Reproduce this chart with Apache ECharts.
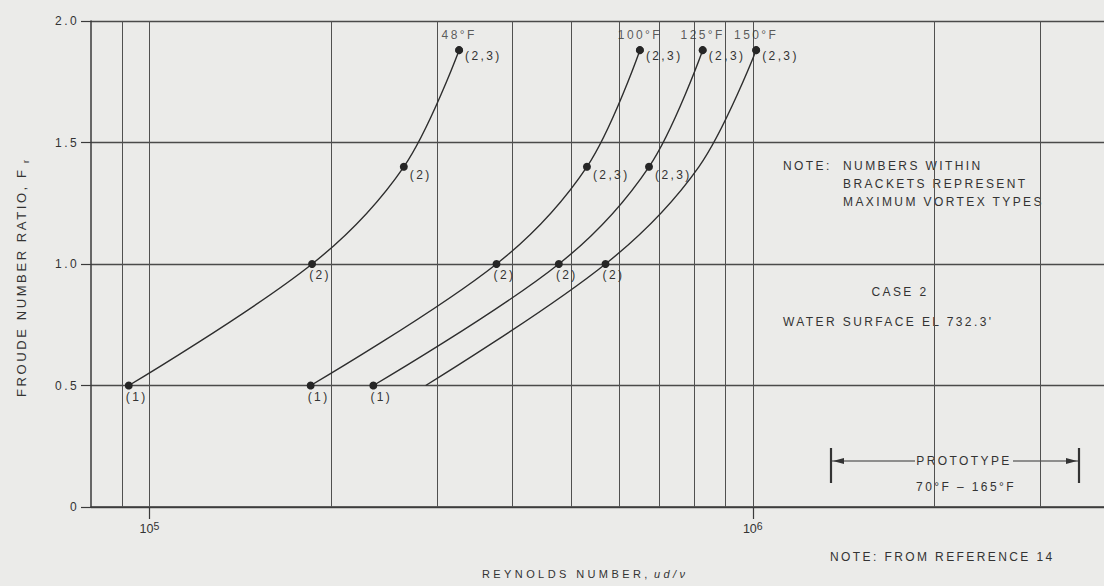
<!DOCTYPE html>
<html>
<head>
<meta charset="utf-8">
<script src="https://cdn.jsdelivr.net/npm/echarts@6/dist/echarts.min.js"></script>
<style>
html, body { margin: 0; padding: 0; background: #ebebe9; }
#chart { width: 1104px; height: 586px; }
#chart text { letter-spacing: 0; }
#chart text[style*="12px"] { letter-spacing: 2.4px; }
#chart text[style*="11px"] { letter-spacing: 3.4px; }
#chart text[style*="13px"] { letter-spacing: 2.6px; }
</style>
</head>
<body>
<div id="chart"></div>
<script>
// ---- data ----
const temperatures = ['48°F', '100°F', '125°F', '150°F'];

const reynolds48 = [92400, 186000, 264000, 326000];
const froude48 = [0.5, 1.0, 1.4, 1.88];
const vortex48 = ['(1)', '(2)', '(2)', '(2,3)'];

const reynolds100 = [185000, 376000, 531000, 650000];
const froude100 = [0.5, 1.0, 1.4, 1.88];
const vortex100 = ['(1)', '(2)', '(2,3)', '(2,3)'];

const reynolds125 = [235000, 477000, 673000, 826000];
const froude125 = [0.5, 1.0, 1.4, 1.88];
const vortex125 = ['(1)', '(2)', '(2,3)', '(2,3)'];

// 150°F: the 0.5 and 1.4 entries are read off the drawn curve (no test point there)
const reynolds150 = [287000, 570000, 814000, 1013000];
const froude150 = [0.5, 1.0, 1.4, 1.88];
const vortex150 = [null, '(2)', null, '(2,3)'];

const gridReynolds = [90000, 100000, 200000, 300000, 400000, 500000, 600000, 700000, 800000, 900000, 1000000, 2000000, 3000000];
const xLabelValues = [100000, 1000000];
const yTickValues = [0, 0.5, 1.0, 1.5, 2.0];

// ---- chart ----
const FONT = 'Liberation Sans';
const INK = '#333333';

function pointLabel(f, text) {
  if (!text) return { show: false };
  if (f < 1.2) {
    return { show: true, formatter: text, position: 'bottom', distance: 1, offset: [8, 0],
             fontSize: 12, fontFamily: FONT, color: INK };
  }
  return { show: true, formatter: text, position: 'right', distance: 2, offset: [0, f > 1.6 ? 6 : 8],
           fontSize: 12, fontFamily: FONT, color: INK };
}

function curve(name, re, fr, vt) {
  return {
    type: 'line', name: name, smooth: 0.35,
    symbolSize: 8, showSymbol: true, silent: true, z: 3,
    lineStyle: { color: '#2e2e2e', width: 1.4 },
    itemStyle: { color: '#262626' },
    data: re.map((x, i) => ({
      value: [x, fr[i]],
      symbol: vt[i] ? 'circle' : 'none',
      label: pointLabel(fr[i], vt[i])
    }))
  };
}

const curves = [
  [reynolds48, froude48, vortex48],
  [reynolds100, froude100, vortex100],
  [reynolds125, froude125, vortex125],
  [reynolds150, froude150, vortex150]
];

const series = curves.map((c, i) => curve(temperatures[i], c[0], c[1], c[2]));

series[0].markLine = {
  silent: true, z: 1, symbol: ['none', 'none'], label: { show: false },
  lineStyle: { type: 'solid', color: '#505050', width: 1 },
  data: gridReynolds.map(v => ({ xAxis: v }))
};

series.push({
  type: 'scatter', name: 'temperature', silent: true, z: 2,
  symbolSize: 8, itemStyle: { color: '#262626' },
  label: { show: true, position: 'top', distance: 5, formatter: '{b}',
           fontSize: 12, fontFamily: FONT, color: INK },
  data: curves.map((c, i) => ({ name: temperatures[i], value: [c[0][c[0].length - 1], c[1][c[1].length - 1]] }))
});

function txt(text, x, y, align, size, extra) {
  return Object.assign({
    type: 'text', x: x, y: y, silent: true,
    style: { text: text, fill: INK, fontSize: size || 12, fontFamily: FONT,
             textAlign: align || 'left', textVerticalAlign: 'middle' }
  }, extra || {});
}

const chart = echarts.init(document.getElementById('chart'), null, { renderer: 'svg' });
chart.setOption({
  animation: false,
  backgroundColor: '#ebebe9',
  grid: { left: 91, right: -12, top: 21, bottom: 79, containLabel: false, outerBoundsMode: 'none' },
  xAxis: {
    type: 'log', logBase: 10, min: 80000, max: 4000000,
    axisLine: { show: true, lineStyle: { color: '#3a3a3a', width: 1.5 } },
    axisTick: { show: true, customValues: xLabelValues, length: 12, lineStyle: { color: '#3a3a3a', width: 1.2 } },
    axisLabel: {
      customValues: xLabelValues, margin: 13, color: INK,
      formatter: v => '{a|10}{s|' + Math.round(Math.log10(v)) + '}',
      rich: {
        a: { fontSize: 12.5, fontFamily: FONT, color: INK, lineHeight: 18 },
        s: { fontSize: 10.5, fontFamily: FONT, color: INK, lineHeight: 4, verticalAlign: 'top' }
      }
    },
    splitLine: { show: false }
  },
  yAxis: {
    type: 'value', min: yTickValues[0], max: yTickValues[yTickValues.length - 1], interval: 0.5,
    axisLine: { show: true, lineStyle: { color: '#3a3a3a', width: 1.5 } },
    axisTick: { show: true, length: 10, lineStyle: { color: '#3a3a3a', width: 1.2 } },
    axisLabel: { margin: 12, fontSize: 12, fontFamily: FONT, color: INK,
                 formatter: v => (v === 0 ? '0' : v.toFixed(1)) },
    splitLine: { show: true, lineStyle: { color: '#4a4a4a', width: 1.3 } }
  },
  series: series,
  graphic: [
    txt('NOTE:', 783, 166),
    txt('NUMBERS WITHIN', 843, 166),
    txt('BRACKETS REPRESENT', 843, 184),
    txt('MAXIMUM VORTEX TYPES', 843, 202),
    txt('CASE 2', 900, 292, 'center'),
    txt('WATER SURFACE EL 732.3\'', 783, 322),
    { type: 'line', silent: true, shape: { x1: 831, y1: 448, x2: 831, y2: 483 }, style: { stroke: '#333', lineWidth: 2.2 } },
    { type: 'line', silent: true, shape: { x1: 1079, y1: 448, x2: 1079, y2: 483 }, style: { stroke: '#333', lineWidth: 2.2 } },
    { type: 'line', silent: true, shape: { x1: 832, y1: 461, x2: 915, y2: 461 }, style: { stroke: '#333', lineWidth: 1.2 } },
    { type: 'line', silent: true, shape: { x1: 1013, y1: 461, x2: 1078, y2: 461 }, style: { stroke: '#333', lineWidth: 1.2 } },
    { type: 'polygon', silent: true, shape: { points: [[833, 461], [844, 458], [844, 464]] }, style: { fill: '#333' } },
    { type: 'polygon', silent: true, shape: { points: [[1077, 461], [1066, 458], [1066, 464]] }, style: { fill: '#333' } },
    txt('PROTOTYPE', 964, 461, 'center'),
    txt('70°F – 165°F', 966, 487, 'center'),
    txt('NOTE: FROM REFERENCE 14', 830, 557),
    txt('REYNOLDS NUMBER,', 482, 574, 'left', 11),
    txt('ud/ν', 654, 574, 'left', 11, { style: { text: 'ud/ν', fill: INK, fontSize: 11, fontFamily: FONT, fontStyle: 'italic', textAlign: 'left', textVerticalAlign: 'middle' } }),
    txt('FROUDE NUMBER RATIO, F', 21, 397, 'left', 13, { rotation: Math.PI / 2 }),
    txt('r', 26, 163, 'left', 9, { rotation: Math.PI / 2 })
  ]
});
</script>
</body>
</html>
